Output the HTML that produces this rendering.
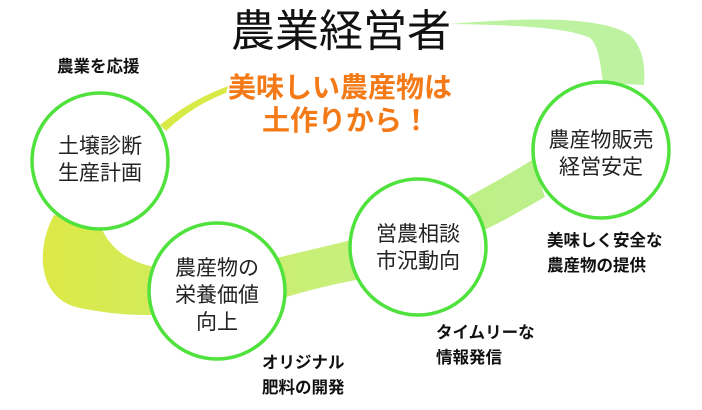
<!DOCTYPE html>
<html><head><meta charset="utf-8"><style>
body{margin:0;width:702px;height:410px;background:#fff;position:relative;overflow:hidden;font-family:"Liberation Sans","Noto Sans CJK JP",sans-serif}
.t{position:absolute;white-space:nowrap;line-height:1}
.c{position:absolute;text-align:center;font-size:21px;line-height:27px;color:#222;font-weight:400;white-space:nowrap}
.s{position:absolute;font-size:16.5px;font-weight:700;line-height:25px;color:#111;white-space:nowrap}
</style></head><body>
<svg width="702" height="410" style="position:absolute;left:0;top:0">
<defs><linearGradient id="g" x1="0" y1="0" x2="702" y2="0" gradientUnits="userSpaceOnUse">
<stop offset="0" stop-color="#dfe83e"/><stop offset="0.45" stop-color="#c8ef78"/><stop offset="1" stop-color="#b3f09c"/></linearGradient></defs>
<path fill="url(#g)" d="M532,160 C500,180 480,190 468,197 L351,240 C320,248 300,252 281,257 L155,267 C130,262 110,250 100,225 L54,215 C35,250 38,300 80,308 C110,314 130,315 149,315 L286,297 C310,290 330,285 356,280 L484,230 C510,218 530,205 545,197 Z"/>
<path fill="#d8ea48" d="M160,125 C185,105 205,95 228,86 L226,93 C200,103 182,116 166,131 Z"/>
<path fill="#bdf2a0" d="M450,24 C520,18 600,15 630,35 C645,50 645,70 644,85 L603,83 C600,60 598,45 590,38 C570,28 520,25 450,24 Z"/>
<g fill="#fff" stroke="#4fe23c" stroke-width="3.5">
<circle cx="100" cy="161" r="68"/>
<circle cx="217" cy="291" r="68"/>
<circle cx="418" cy="247" r="68"/>
<circle cx="601" cy="150" r="68"/>
</g>
</svg>
<div class="t" style="left:231px;top:10px;font-size:44px;color:#111">農業経営者</div>
<div class="t" style="left:228px;top:74px;font-size:28px;font-weight:700;color:#f47a17">美味しい農産物は</div>
<div class="t" style="left:262px;top:107px;font-size:28px;font-weight:700;color:#f47a17">土作りから！</div>
<div class="c" style="left:40px;top:133px;width:120px">土壌診断<br>生産計画</div>
<div class="c" style="left:157px;top:255px;width:120px">農産物の<br>栄養価値<br>向上</div>
<div class="c" style="left:358px;top:221px;width:120px">営農相談<br>市況動向</div>
<div class="c" style="left:541px;top:127px;width:120px">農産物販売<br>経営安定</div>
<div class="s" style="left:57px;top:55px">農業を応援</div>
<div class="s" style="left:547px;top:229px">美味しく安全な<br>農産物の提供</div>
<div class="s" style="left:436px;top:321px">タイムリーな<br>情報発信</div>
<div class="s" style="left:262px;top:351px">オリジナル<br>肥料の開発</div>
</body></html>
